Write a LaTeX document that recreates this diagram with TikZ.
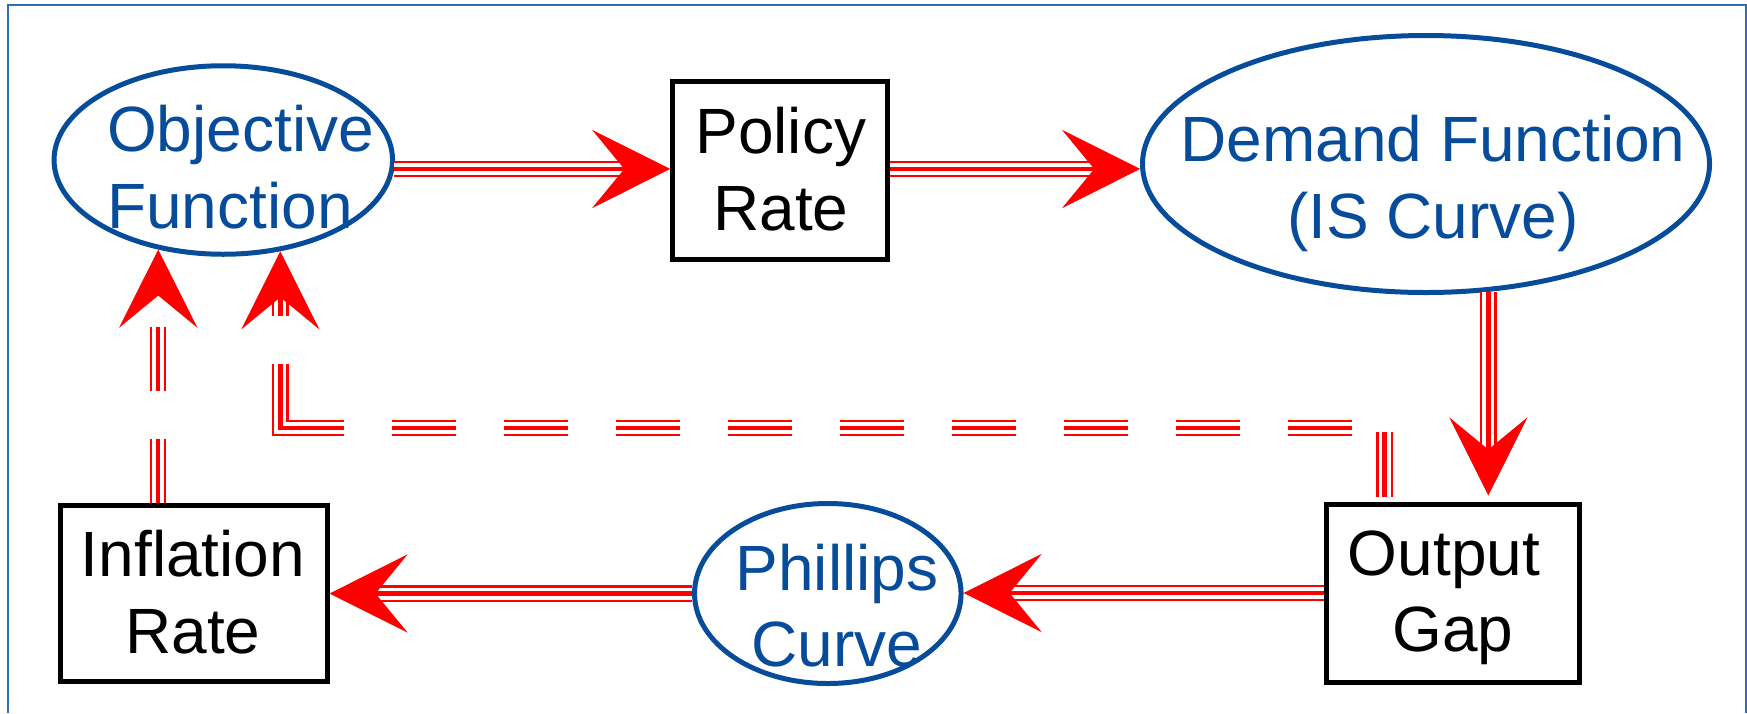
\documentclass[tikz,border=0pt]{standalone}
\usepackage{fontspec}
\setmainfont{Liberation Sans}
\usetikzlibrary{arrows.meta,shapes.geometric,calc}
\definecolor{eblue}{RGB}{6,76,154}
\definecolor{fblue}{RGB}{46,110,182}
\begin{document}
\begin{tikzpicture}[x=1pt,y=-1pt,
  box/.style={draw=black, line width=5pt, rectangle, inner sep=0pt},
  ell/.style={draw=eblue, line width=5pt, ellipse, inner sep=0pt},
  txt/.style={inner sep=0pt, font=\fontsize{64}{76.3}\selectfont, align=center},
  btxt/.style={txt, text=eblue},
  tri/.style={draw=red, line width=4.5pt, -{Stealth[length=78pt,width=78pt,inset=32pt]},
     preaction={draw=red, line width=16.5pt, -, shorten >=46pt, #1},
     preaction={draw=white, line width=12pt, -, shorten >=46pt, #1}, #1},
  tri/.default={},
  dashy/.style={dash pattern=on 64pt off 48pt},
  elbowdash/.style={dash pattern=on 65pt off 36pt on 64pt off 48pt on 64pt off 48pt
     on 64pt off 48pt on 64pt off 48pt on 64pt off 48pt on 64pt off 48pt on 64pt off 48pt
     on 64pt off 48pt on 64pt off 48pt on 128pt off 48pt on 300pt off 10pt}
]
\useasboundingbox (0,0) rectangle (1747,713);
\draw[fblue, line width=2pt] (8.3,713) -- (8.3,5) -- (1746,5) -- (1746,713);

% shapes
\node[ell, minimum width=338.5pt, minimum height=188.5pt] (obj) at (223.3,160) {};
\node[ell, minimum width=567pt, minimum height=257pt] (dem) at (1426,164) {};
\node[ell, minimum width=266.5pt, minimum height=180pt] (phil) at (827.8,593.5) {};
\node[box, minimum width=214.5pt, minimum height=178pt] (pol) at (780,170) {};
\node[box, minimum width=267pt, minimum height=176pt] (inf) at (193.5,593.5) {};
\node[box, minimum width=253pt, minimum height=178pt] (out) at (1452.5,593) {};

% texts (anchor base = baseline of the last line)
\node[btxt, align=left, anchor=base west] (objt) at (107,228) {Objective\\Function};
\node[txt, anchor=base] (polt) at (780.8,230) {Policy\\Rate};
\node[btxt, anchor=base] (demt) at (1433,238) {Demand Function\\(IS Curve)};
\node[txt, anchor=base] (inft) at (193,653) {Inflation\\Rate};
\node[txt, anchor=base] (outt) at (1453,651.7) {Output\hspace*{0.28em}\\Gap};
\node[btxt, anchor=base] (phit) at (837,666.7) {Phillips\\Curve};

% connectors
\coordinate (dtip) at ($(dem.296.62 |- out.north)+(0,-6)$);
\coordinate (k1) at (1384.7,428);
\draw[tri] (obj.-3.86) -- (obj.-3.86 -| pol.west);
\draw[tri] (dem.181.55 -| pol.east) -- (dem.181.55);
\draw[tri] (dem.296.62) -- (dtip);
\draw[tri] (out.west) -- (out.west -| phil.east);
\draw[tri] (phil.west) -- (phil.west -| inf.east);
\draw[tri={dashy}] (obj.234.85 |- inf.north) -- (obj.234.85);
\draw[tri={elbowdash, shorten <=5pt}] (k1 |- out.north) -- (k1) -- (obj.302.36 |- k1) -- (obj.302.36);
\end{tikzpicture}
\end{document}
